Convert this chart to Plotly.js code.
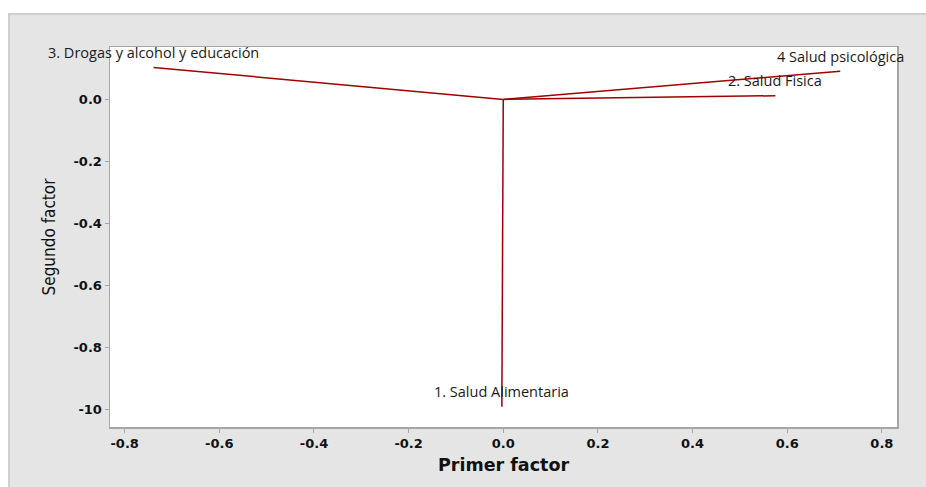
<!DOCTYPE html>
<html>
<head>
<meta charset="utf-8">
<script src="https://cdn.plot.ly/plotly-3.0.1.min.js"></script>
<style>
  html, body { margin: 0; padding: 0; background: #ffffff; width: 926px; height: 487px; overflow: hidden; }
  #frame { position: absolute; left: 8px; top: 13px; width: 918px; height: 474px; background: #e5e5e5;
           border-left: 2px solid #cfcfcf; border-top: 2px solid #cfcfcf; box-sizing: border-box; }
  #chart { position: absolute; left: 0; top: 0; width: 926px; height: 487px; }
</style>
</head>
<body>
<div id="frame"></div>
<div id="chart"></div>
<script>
// Variable labels and loadings (first factor, second factor)
const labels = ["1. Salud Alimentaria", "2. Salud Fisica", "3. Drogas y alcohol y educación", "4 Salud psicológica"];
const loadX = [-0.003, 0.575, -0.739, 0.712];
const loadY = [-0.991, 0.012, 0.103, 0.091];

const xTickVals = [-0.8, -0.6, -0.4, -0.2, 0.0, 0.2, 0.4, 0.6, 0.8];
const xTickText = ["-0.8", "-0.6", "-0.4", "-0.2", "0.0", "0.2", "0.4", "0.6", "0.8"];
const yTickVals = [0.0, -0.2, -0.4, -0.6, -0.8, -1.0];
const yTickText = ["0.0", "-0.2", "-0.4", "-0.6", "-0.8", "-10"];

const lineColor = "#a00000";
const traces = labels.map((lab, i) => ({
  type: "scatter",
  mode: "lines",
  x: [0, loadX[i]],
  y: [0, loadY[i]],
  line: { color: lineColor, width: 1.5 },
  hoverinfo: "skip",
  showlegend: false,
  cliponaxis: false
}));

const annotations = labels.map((lab, i) => ({
  x: loadX[i], y: loadY[i], xref: "x", yref: "y",
  text: lab, showarrow: false, xanchor: "center", yanchor: "middle",
  yshift: 15,
  font: { family: "Open Sans, Noto Sans, sans-serif", size: 14.5, color: "#1a1a1a" }
}));

const tickFont = { family: "DejaVu Sans, sans-serif", size: 13, color: "#111111", weight: 700 };

const layout = {
  width: 926, height: 487,
  margin: { l: 110, r: 29, t: 47, b: 60 },
  paper_bgcolor: "rgba(0,0,0,0)",
  plot_bgcolor: "#ffffff",
  showlegend: false,
  xaxis: {
    range: [-0.831, 0.832],
    tickmode: "array", tickvals: xTickVals, ticktext: xTickText,
    showgrid: false, zeroline: false,
    showline: true, linecolor: "#a6a6a6", linewidth: 1.5, mirror: true,
    ticks: "outside", ticklen: 4, tickcolor: "#a6a6a6", tickwidth: 1,
    tickfont: tickFont,
    title: { text: "Primer factor", standoff: 8,
             font: { family: "DejaVu Sans, sans-serif", size: 17.5, color: "#111111", weight: 700 } }
  },
  yaxis: {
    range: [-1.056, 0.169],
    tickmode: "array", tickvals: yTickVals, ticktext: yTickText,
    showgrid: false, zeroline: false,
    showline: true, linecolor: "#a6a6a6", linewidth: 1.5, mirror: true,
    ticks: "outside", ticklen: 4, tickcolor: "#a6a6a6", tickwidth: 1,
    tickfont: tickFont,
    title: { text: "Segundo factor", standoff: 13,
             font: { family: "Liberation Sans Narrow, DejaVu Sans Condensed, sans-serif", size: 17, color: "#111111" } }
  },
  annotations: annotations
};

Plotly.newPlot("chart", traces, layout, { staticPlot: true, displayModeBar: false });
</script>
</body>
</html>
